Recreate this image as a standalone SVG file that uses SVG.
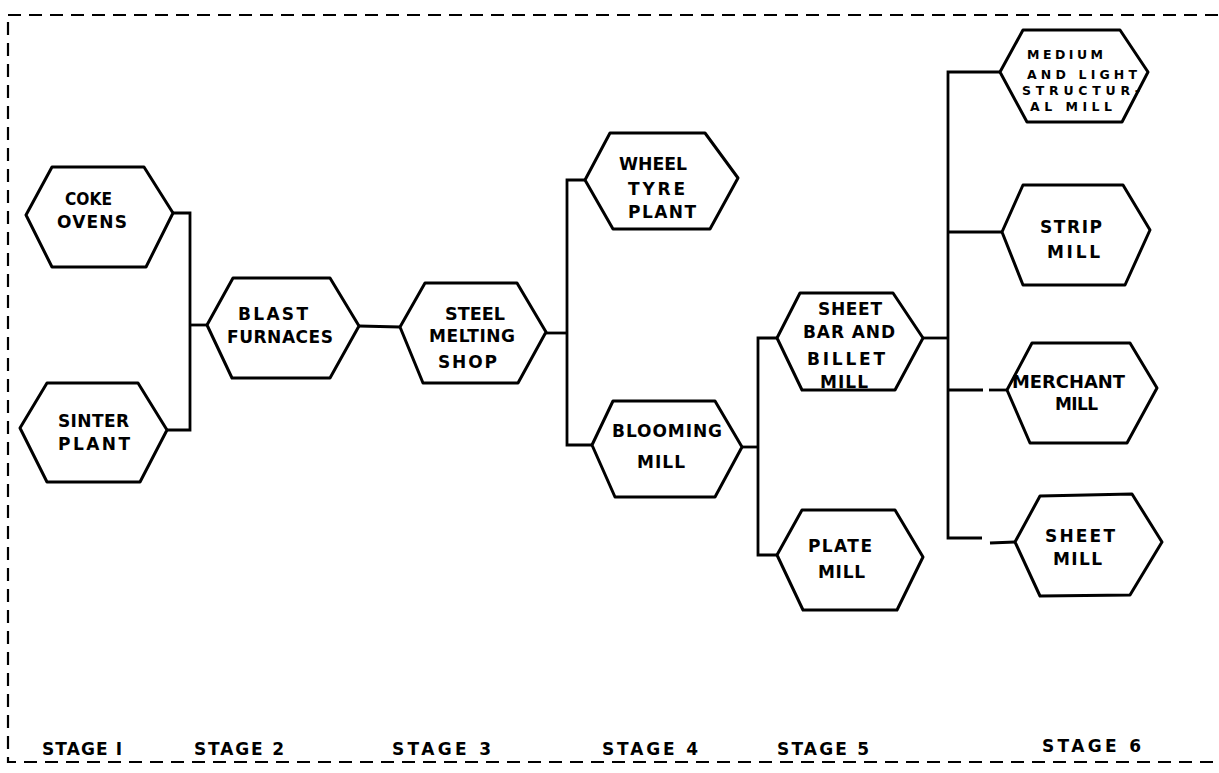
<svg xmlns="http://www.w3.org/2000/svg" width="1219" height="773" viewBox="0 0 1219 773">
<style>
.hex{fill:#fff;stroke:#000;stroke-width:3;stroke-linejoin:round}
.c{fill:none;stroke:#000;stroke-width:2.8;stroke-linejoin:miter}
.b{fill:none;stroke:#000;stroke-width:2.2;stroke-dasharray:13 8}
text{font-family:"DejaVu Sans","Liberation Sans",sans-serif;font-weight:bold;font-size:17px;fill:#000}
.s{font-size:12.5px}
.st{font-size:17px}
</style>
<rect width="1219" height="773" fill="#fff"/>
<g id="border">
<path class="b" d="M8,15 H1219"/>
<path class="b" d="M8,22 V762 H1219"/>
</g>
<g id="connectors">
<polyline class="c" points="173,213 190,213 190,430 167,430"/>
<line class="c" x1="190" y1="325" x2="207" y2="325"/>
<line class="c" x1="359" y1="326" x2="400" y2="327"/>
<line class="c" x1="546" y1="333" x2="567" y2="333"/>
<polyline class="c" points="585,180 567,180 567,445 592,445"/>
<line class="c" x1="742" y1="447" x2="758" y2="447"/>
<polyline class="c" points="777,338 758,338 758,555 777,555"/>
<line class="c" x1="923" y1="338" x2="948" y2="338"/>
<polyline class="c" points="1000,72 948,72 948,538 982,538"/>
<line class="c" x1="948" y1="232" x2="1002" y2="232"/>
<line class="c" x1="948" y1="390" x2="983" y2="390"/>
<line class="c" x1="989" y1="390" x2="1007" y2="390"/>
<line class="c" x1="990" y1="543" x2="1015" y2="542"/>
</g>
<g id="coke-ovens">
<polygon class="hex" points="26,215 52,167 144,167 173,213 146,267 52,267"/>
<text x="65" y="205" textLength="47" lengthAdjust="spacingAndGlyphs">COKE</text>
<text x="57" y="228" textLength="70" lengthAdjust="spacing">OVENS</text>
</g>
<g id="sinter-plant">
<polygon class="hex" points="20,428 47,383 138,383 167,430 140,482 47,482"/>
<text x="58" y="427" textLength="71" lengthAdjust="spacing">SINTER</text>
<text x="58" y="450" textLength="72" lengthAdjust="spacing">PLANT</text>
</g>
<g id="blast-furnaces">
<polygon class="hex" points="207,325 233,278 330,278 359,326 330,378 232,378"/>
<text x="238" y="320" textLength="70" lengthAdjust="spacing">BLAST</text>
<text x="227" y="343" textLength="106" lengthAdjust="spacing">FURNACES</text>
</g>
<g id="steel-melting-shop">
<polygon class="hex" points="400,327 425,283 517,283 546,332 518,383 423,383"/>
<text x="445" y="320" textLength="60" lengthAdjust="spacingAndGlyphs">STEEL</text>
<text x="429" y="342" textLength="86" lengthAdjust="spacing">MELTING</text>
<text x="438" y="368" textLength="59" lengthAdjust="spacing">SHOP</text>
</g>
<g id="wheel-tyre-plant">
<polygon class="hex" points="585,180 610,133 705,133 738,178 710,229 613,229"/>
<text x="619" y="170" textLength="68" lengthAdjust="spacingAndGlyphs">WHEEL</text>
<text x="628" y="195" textLength="57" lengthAdjust="spacing">TYRE</text>
<text x="628" y="218" textLength="68" lengthAdjust="spacing">PLANT</text>
</g>
<g id="blooming-mill">
<polygon class="hex" points="592,445 613,401 715,401 742,447 715,497 615,497"/>
<text x="612" y="437" textLength="110" lengthAdjust="spacing">BLOOMING</text>
<text x="637" y="468" textLength="48" lengthAdjust="spacing">MILL</text>
</g>
<g id="sheet-bar-billet-mill">
<polygon class="hex" points="777,338 800,293 893,293 923,338 895,390 802,390"/>
<text x="818" y="315" textLength="64" lengthAdjust="spacing">SHEET</text>
<text x="803" y="338" textLength="92" lengthAdjust="spacing">BAR AND</text>
<text x="807" y="365" textLength="78" lengthAdjust="spacing">BILLET</text>
<text x="820" y="388" textLength="48" lengthAdjust="spacing">MILL</text>
</g>
<g id="plate-mill">
<polygon class="hex" points="777,555 802,510 895,510 923,557 897,610 803,610"/>
<text x="808" y="552" textLength="64" lengthAdjust="spacing">PLATE</text>
<text x="818" y="578" textLength="47" lengthAdjust="spacing">MILL</text>
</g>
<g id="medium-light-structural-mill">
<polygon class="hex" points="1000,72 1023,30 1120,30 1148,72 1122,122 1027,122"/>
<text class="s" x="1027" y="59" textLength="76" lengthAdjust="spacing">MEDIUM</text>
<text class="s" x="1027" y="79" textLength="110" lengthAdjust="spacing">AND LIGHT</text>
<text class="s" x="1022" y="95" textLength="118" lengthAdjust="spacing">STRUCTUR-</text>
<text class="s" x="1030" y="111" textLength="82" lengthAdjust="spacing">AL MILL</text>
</g>
<g id="strip-mill">
<polygon class="hex" points="1002,232 1023,185 1123,185 1150,230 1125,285 1023,285"/>
<text x="1040" y="233" textLength="62" lengthAdjust="spacing">STRIP</text>
<text x="1047" y="258" textLength="53" lengthAdjust="spacing">MILL</text>
</g>
<g id="merchant-mill">
<polygon class="hex" points="1007,390 1032,343 1130,343 1157,388 1127,443 1030,443"/>
<text x="1012" y="388" textLength="113" lengthAdjust="spacingAndGlyphs">MERCHANT</text>
<text x="1055" y="410" textLength="43" lengthAdjust="spacing">MILL</text>
</g>
<g id="sheet-mill">
<polygon class="hex" points="1015,542 1040,496 1132,494 1162,542 1130,595 1040,596"/>
<text x="1045" y="542" textLength="70" lengthAdjust="spacing">SHEET</text>
<text x="1053" y="565" textLength="49" lengthAdjust="spacing">MILL</text>
</g>
<g id="stages">
<text class="st" x="42" y="755" textLength="80" lengthAdjust="spacing">STAGE I</text>
<text class="st" x="194" y="755" textLength="90" lengthAdjust="spacing">STAGE 2</text>
<text class="st" x="392" y="755" textLength="99" lengthAdjust="spacing">STAGE 3</text>
<text class="st" x="602" y="755" textLength="96" lengthAdjust="spacing">STAGE 4</text>
<text class="st" x="777" y="755" textLength="92" lengthAdjust="spacing">STAGE 5</text>
<text class="st" x="1042" y="752" textLength="99" lengthAdjust="spacing">STAGE 6</text>
</g>
</svg>
